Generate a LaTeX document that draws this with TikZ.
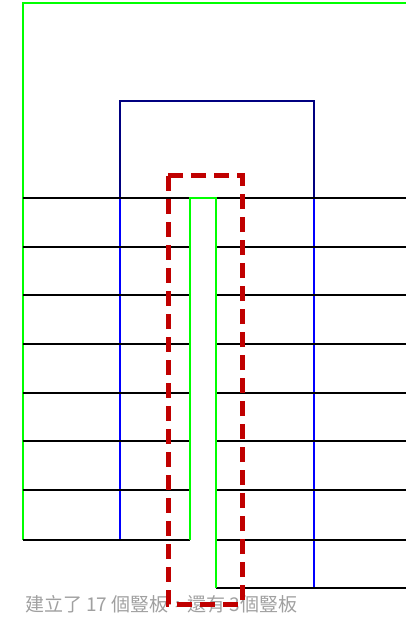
\documentclass[tikz,border=0pt]{standalone}
\usepackage{fontspec}
\usepackage{xcolor}
\usepackage{tikz}
\newfontfamily\cjk{Noto Sans CJK TC}
\definecolor{wall}{HTML}{00FF00}
\definecolor{roof}{HTML}{000080}
\definecolor{post}{HTML}{0000FF}
\definecolor{frame}{HTML}{C00000}
\definecolor{note}{HTML}{A0A0A0}

\begin{document}
\begin{tikzpicture}[x=1pt,y=-1pt,line width=2pt,font=\cjk]
  \useasboundingbox (0,0) rectangle (406,620);
  \draw[wall] (406,3) -- (23,3) -- (23,540);
  \draw[roof] (120,198) -- (120,101) -- (314,101) -- (314,198);
  \draw[post] (120,198) -- (120,540);
  \draw[post] (314,198) -- (314,588);
  \draw (23,198) -- (406,198);
  \draw (23,247) -- (190,247);
  \draw (23,295) -- (190,295);
  \draw (23,344) -- (190,344);
  \draw (23,393) -- (190,393);
  \draw (23,441) -- (190,441);
  \draw (23,490) -- (190,490);
  \draw (23,540) -- (190,540);
  \draw (216,247) -- (406,247);
  \draw (216,295) -- (406,295);
  \draw (216,344) -- (406,344);
  \draw (216,393) -- (406,393);
  \draw (216,441) -- (406,441);
  \draw (216,490) -- (406,490);
  \draw (216,540) -- (406,540);
  \draw (216,588) -- (406,588);
  \draw[wall] (190,540) -- (190,198) -- (216,198) -- (216,588);
  \node[note,anchor=west,inner sep=0pt,font=\cjk\fontsize{19}{19}\selectfont] (count) at (24,604) {建立了 17 個豎板，還有 3個豎板};
  \draw[frame,line width=5pt,dash pattern=on 15pt off 8pt] (168,176) rectangle (242,604);
\end{tikzpicture}
\end{document}
